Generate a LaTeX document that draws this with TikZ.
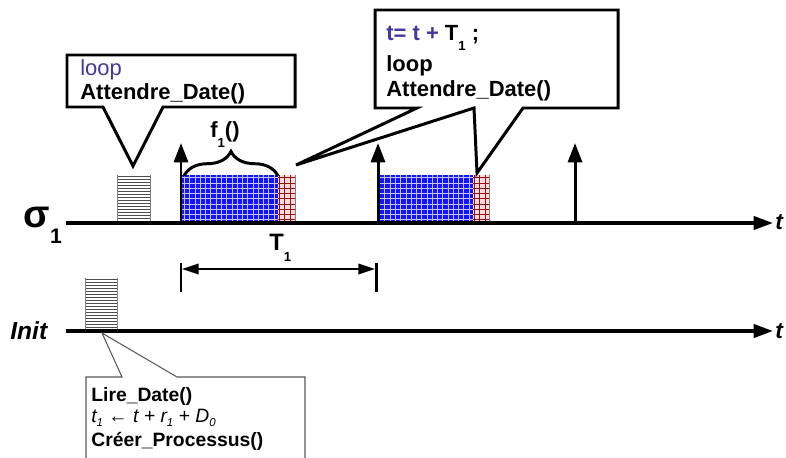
\documentclass[tikz,border=0pt]{standalone}
\usepackage{fontspec}
\setmainfont{Liberation Sans}
\usetikzlibrary{arrows.meta,decorations.pathreplacing,patterns}
\definecolor{codeblue}{RGB}{64,56,160}
\definecolor{taskred}{RGB}{140,20,20}
\definecolor{taskblue}{RGB}{20,20,255}
\newcommand{\lowsub}[1]{\raisebox{-0.9ex}{\fontsize{7.5}{8}\selectfont #1}}
\newcommand{\fsub}[1]{\raisebox{-0.45ex}{\fontsize{6.5}{7}\selectfont #1}}
\tikzset{
  bubble/.style={line width=1.7pt, fill=white},
  note/.style={draw=gray!70!black, line width=0.6pt, fill=white},
  big/.style={anchor=base west, inner sep=0pt, font=\fontsize{12.5}{14}\selectfont\bfseries},
  small/.style={anchor=base west, inner sep=0pt, font=\fontsize{11}{13}\selectfont\bfseries},
  axis/.style={line width=2pt, -{Triangle[length=11pt,width=7.5pt]}},
  release/.style={line width=1.7pt, -{Triangle[length=11pt,width=8pt]}},
  timelabel/.style={anchor=base west, inner sep=0pt, font=\fontsize{13}{15}\selectfont\bfseries\itshape},
  jobblue/.style={fill=taskblue, postaction={pattern=grid, pattern color=white!75!taskblue}},
  jobred/.style={fill=red!15, postaction={pattern=grid, pattern color=taskred}}
}
\begin{document}
\begin{tikzpicture}[x=0.02cm, y=-0.02cm]
    \useasboundingbox (0,0) rectangle (786,457);
    % time axes
    \coordinate (s0) at (66,223);
    \coordinate (s1) at (773,223);
    \coordinate (i0) at (66,331);
    \coordinate (i1) at (773,331);
    \node (sigma) at (37,217) {\fontsize{22}{24}\selectfont\bfseries σ};
    \node[anchor=center, inner sep=0pt] (sigmasub) at (56,236) {\fontsize{12}{14}\selectfont\bfseries 1};
    \node[anchor=base west, inner sep=0pt] (init) at (10,339) {\fontsize{14}{16}\selectfont\bfseries\itshape Init};
    \node[timelabel] (tsigma) at (775,229) {t};
    \node[timelabel] (tinit) at (775,338) {t};

    % Attendre_Date on sigma 1
    \foreach \yy in {176,179,...,221} \draw[gray!60!black, line width=0.5pt] (117,\yy) -- (150,\yy);
    \draw[gray, line width=0.4pt] (117,175) -- (117,223) (150,175) -- (150,223);
    % Lire_Date on Init
    \foreach \yy in {279,282,...,329} \draw[gray!60!black, line width=0.5pt] (85,\yy) -- (117,\yy);
    \draw[gray, line width=0.4pt] (85,278) -- (85,331) (117,278) -- (117,331);

    % f1 executions
    \path[jobblue] (181,175) rectangle (278,223);
    \path[jobred] (278,175) rectangle (295,223);
    \draw[gray, line width=0.4pt] (295,175) -- (295,223);
    \path[jobblue] (379,175) rectangle (473,223);
    \path[jobred] (473,175) rectangle (489,223);
    \draw[gray, line width=0.4pt] (489,175) -- (489,223);

    \draw[axis] (s0) -- (s1);
    \draw[axis] (i0) -- (i1);
    \draw[release] (181,223) -- (181,143);
    \draw[release] (378,223) -- (378,143);
    \draw[release] (575,223) -- (575,143);

    % f1 and its period
    \draw[line width=1.7pt, decorate, decoration={brace, amplitude=14pt}] (184,176) -- (278,176);
    \node[big] (fname) at (210,137) {f\lowsub{1}()};
    \node[big, font=\fontsize{13.5}{15}\selectfont\bfseries] (period) at (269,250) {T\lowsub{1}};
    \draw[line width=1.7pt] (181,263) -- (181,292);
    \draw[line width=1.7pt] (376,263) -- (376,292);
    \draw[line width=1.1pt, {Triangle[length=9.5pt,width=6pt]}-{Triangle[length=9.5pt,width=6pt]}] (182,269) -- (375,269);

    % callouts
    \draw[bubble] (67,55) -- (295,55) -- (295,107) -- (163,107) -- (133,166) -- (103,107) -- (67,107) -- cycle;
    \node[big, font=\fontsize{12.5}{14}\selectfont, text=codeblue] (loopa) at (80,75) {loop};
    \node[big] (waita) at (80,99) {Attendre\_Date()};

    \draw[bubble] (375,10) -- (618,10) -- (618,108) -- (523,108) -- (477,173) -- (474,108) -- (296,165) -- (417,108) -- (375,108) -- cycle;
    \node[big] (incr) at (386,40) {\textcolor{codeblue}{t= t +} T\lowsub{1} ;};
    \node[big] (loopb) at (386,71) {loop};
    \node[big] (waitb) at (386,96) {Attendre\_Date()};

    \draw[note] (86,460) -- (86,377) -- (122,377) -- (102,333) -- (177,377) -- (305,377) -- (305,460);
    \node[small] (readdate) at (91,401) {Lire\_Date()};
    \node[small, font=\fontsize{11}{13}\selectfont\itshape] (firstdate) at (91,422) {t\fsub{1} ← t + r\fsub{1} + D\fsub{0}};
    \node[small] (create) at (91,446) {Créer\_Processus()};
\end{tikzpicture}
\end{document}
